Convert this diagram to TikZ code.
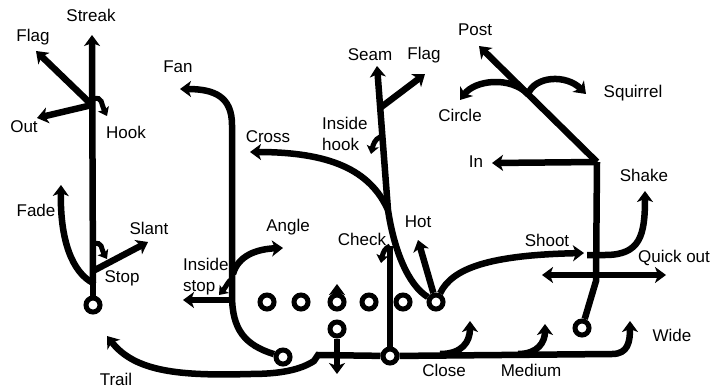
\documentclass[tikz,border=0pt]{standalone}
\usepackage{fontspec}
\setmainfont{Liberation Sans}
\usetikzlibrary{arrows.meta, positioning}

\begin{document}
\begin{tikzpicture}[x=1pt, y=-1pt,
	% Define styles
	player/.style={circle, draw=black, line width=5pt, minimum size=14pt, inner sep=0pt, fill=white},
	stem/.style={draw=black, line width=6.5pt},
	route/.style={stem, -{Stealth[length=11pt, width=16pt, inset=3pt]}},
	twoway/.style={stem, {Stealth[length=11pt, width=16pt, inset=3pt]}-{Stealth[length=11pt, width=16pt, inset=3pt]}},
	hookroute/.style={draw=black, line width=5pt, -{Stealth[length=8pt, width=12pt, inset=1.5pt]}},
	routename/.style={font=\fontsize{17}{21}\selectfont, inner sep=0pt, align=left}
	]

	\useasboundingbox (0,0) rectangle (711,388);

	% Players
	\node[player] (split) at (93,305) {};
	\node[player] (lt) at (267,302) {};
	\node[player] (lg) at (301,302) {};
	\node[player] (ctr) at (337,302) {};
	\node[player] (rg) at (369,302) {};
	\node[player] (rt) at (403,302) {};
	\node[player] (te) at (436,302) {};
	\node[player] (qb) at (337,329) {};
	\node[player] (lb) at (283,357) {};
	\node[player] (rb) at (390,356) {};
	\node[player] (wing) at (582,328) {};

	% Split end tree
	\coordinate (splitstop) at (93,283);
	\coordinate (splitslant) at (93,271);
	\coordinate (splitstophook) at (93,244);
	\coordinate (splitbreak) at (92,105);
	\coordinate (splithook) at (93,99);
	\coordinate (streaktip) at (92,35);
	\coordinate (flagtip) at (36,51);
	\coordinate (outtip) at (37,118);
	\coordinate (hooktip) at (107,116);
	\coordinate (stoptip) at (107,259);
	\coordinate (fadetip) at (61,185);
	\coordinate (slanttip) at (148,242);

	\draw[stem] (split) -- (splitstop);
	\draw[route] (splitstop) -- (streaktip);
	\draw[route] (splitbreak) -- (flagtip);
	\draw[route] (splitbreak) -- (outtip);
	\draw[hookroute] (splithook) .. controls (103,96) and (101,104) .. (hooktip);
	\draw[hookroute] (splitstophook) .. controls (103,241) and (101,249) .. (stoptip);
	\draw[route] (splitstop) .. controls (72,272) and (60,240) .. (fadetip);
	\draw[route] (splitslant) -- (slanttip);

	% Left back
	\coordinate (lbturn) at (232,295);
	\coordinate (lbtop) at (232,125);
	\coordinate (fantip) at (180,89);
	\coordinate (anglebase) at (233,274);
	\coordinate (angletip) at (283,248);
	\coordinate (istopbase) at (232,279);
	\coordinate (istoptip) at (219,295);
	\coordinate (lbout) at (232,300);
	\coordinate (lbouttip) at (183,300);

	\draw[route] (lb) .. controls (245,345) and (232,330) .. (lbturn) -- (lbtop) .. controls (232,97) and (215,89) .. (fantip);
	\draw[route] (anglebase) .. controls (238,256) and (256,249) .. (angletip);
	\draw[hookroute] (istopbase) .. controls (228,281) and (226,287) .. (istoptip);
	\draw[route] (lbout) -- (lbouttip);

	% Centre and quarterback
	\coordinate (snap) at (337,284);
	\coordinate (qbdrop) at (337,374);
	\draw[route] (ctr) -- (snap);
	\draw[route] (qb) -- (qbdrop);

	% Right back: trail, check and flat routes
	\coordinate (trailstep) at (318,355);
	\coordinate (trailtip) at (107,336);
	\coordinate (checktop) at (390,246);
	\coordinate (checktip) at (381,263);
	\coordinate (widebend) at (612,354);
	\coordinate (widetip) at (630,321);
	\coordinate (closebase) at (440,354);
	\coordinate (closetip) at (470,321);
	\coordinate (mediumbase) at (518,354);
	\coordinate (mediumtip) at (545,324);

	\draw[route] (rb) -- (trailstep) -- ++(-4,6) .. controls (300,370) and (280,374) .. (250,374) .. controls (180,376) and (135,372) .. (trailtip);
	\draw[stem] (rb) -- (checktop);
	\draw[hookroute] (checktop) .. controls (385,248) and (383,252) .. (checktip);
	\draw[route] (rb) -- (widebend) .. controls (628,354) and (630,342) .. (widetip);
	\draw[route] (closebase) .. controls (462,354) and (470,342) .. (closetip);
	\draw[route] (mediumbase) .. controls (538,354) and (545,342) .. (mediumtip);

	% Tight end
	\coordinate (teturn) at (388,210);
	\coordinate (seamtip) at (377,66);
	\coordinate (flagbase) at (380,108);
	\coordinate (flagtipr) at (425,74);
	\coordinate (ihookbase) at (380,137);
	\coordinate (ihooktip) at (371,154);
	\coordinate (crosstip) at (250,152);
	\coordinate (hottip) at (418,240);
	\coordinate (shoottip) at (584,253);

	\draw[route] (te) .. controls (408,285) and (394,250) .. (teturn) -- (seamtip);
	\draw[route] (flagbase) -- (flagtipr);
	\draw[hookroute] (ihookbase) .. controls (375,139) and (373,145) .. (ihooktip);
	\draw[route] (teturn) .. controls (370,170) and (330,152) .. (crosstip);
	\draw[route] (te) -- (hottip);
	\draw[route] (te) .. controls (452,268) and (490,255) .. (shoottip);

	% Wing
	\coordinate (wingbend) at (596,281);
	\coordinate (wingtop) at (597,162);
	\coordinate (intip) at (492,163);
	\coordinate (posttip) at (479,46);
	\coordinate (postbreak) at (528,94);
	\coordinate (circletip) at (460,100);
	\coordinate (squirreltip) at (586,94);
	\coordinate (shakebase) at (587,255);
	\coordinate (shaketip) at (645,191);
	\coordinate (quickleft) at (542,275);
	\coordinate (quickright) at (666,275);

	\draw[stem] (wing) -- (wingbend) -- (wingtop);
	\draw[route] (wingtop) -- (intip);
	\draw[route] (wingtop) -- (posttip);
	\draw[route] (postbreak) .. controls (510,76) and (475,80) .. (circletip);
	\draw[route] (postbreak) .. controls (535,76) and (566,74) .. (squirreltip);
	\draw[route] (shakebase) -- (605,255) .. controls (640,255) and (645,236) .. (shaketip);
	\draw[twoway] (quickleft) -- (quickright);

	% Route names
	\node[routename] (lblstreak) at (91,15) {Streak};
	\node[routename] (lblflagl) at (33,37) {Flag};
	\node[routename] (lblout) at (24,127) {Out};
	\node[routename] (lblhook) at (126,132) {Hook};
	\node[routename] (lblfade) at (36,210) {Fade};
	\node[routename] (lblslant) at (149,228) {Slant};
	\node[routename] (lblstop) at (122,278) {Stop};
	\node[routename] (lbltrail) at (116,379) {Trail};
	\node[routename] (lblfan) at (178,67) {Fan};
	\node[routename] (lblcross) at (268,137) {Cross};
	\node[routename, anchor=west] (lblistop) at (183,277) {Inside\\stop};
	\node[routename] (lblangle) at (288,227) {Angle};
	\node[routename] (lblcheck) at (362,239) {Check};
	\node[routename] (lblhot) at (418,222) {Hot};
	\node[routename] (lblseam) at (370,55) {Seam};
	\node[routename] (lblflagr) at (424,55) {Flag};
	\node[routename, anchor=west] (lblihook) at (322,134) {Inside\\hook};
	\node[routename] (lblpost) at (475,30) {Post};
	\node[routename] (lblcircle) at (460,115) {Circle};
	\node[routename] (lblsquirrel) at (633,93) {Squirrel};
	\node[routename] (lblin) at (476,162) {In};
	\node[routename] (lblshake) at (644,175) {Shake};
	\node[routename] (lblshoot) at (547,240) {Shoot};
	\node[routename] (lblquick) at (674,258) {Quick out};
	\node[routename] (lblwide) at (672,335) {Wide};
	\node[routename] (lblclose) at (444,370) {Close};
	\node[routename] (lblmedium) at (531,370) {Medium};

\end{tikzpicture}
\end{document}
